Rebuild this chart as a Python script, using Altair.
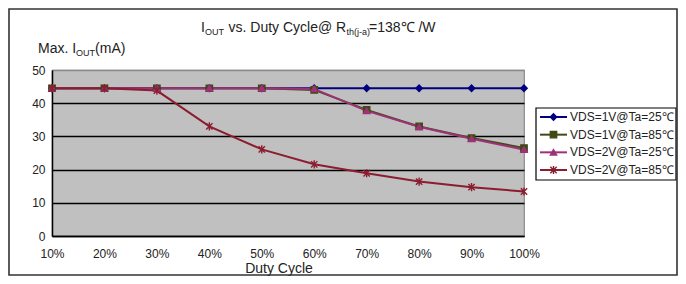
import altair as alt
import pandas as pd

# ---- data ----
duty = [10, 20, 30, 40, 50, 60, 70, 80, 90, 100]
series_names = ["VDS=1V@Ta=25℃", "VDS=1V@Ta=85℃", "VDS=2V@Ta=25℃", "VDS=2V@Ta=85℃"]
vds1_ta25 = [44.5, 44.5, 44.5, 44.5, 44.5, 44.5, 44.5, 44.5, 44.5, 44.5]
vds1_ta85 = [44.5, 44.5, 44.5, 44.5, 44.5, 44.0, 38.0, 33.0, 29.5, 26.5]
vds2_ta25 = [44.5, 44.5, 44.5, 44.5, 44.5, 44.3, 37.7, 32.9, 29.3, 26.0]
vds2_ta85 = [44.5, 44.5, 43.8, 33.0, 26.1, 21.6, 18.9, 16.4, 14.7, 13.4]
y_ticks = [0, 10, 20, 30, 40, 50]

colors = ["#000080", "#3f4a14", "#a0307a", "#8c1c30"]
STAR = "M-1,-1L1,1M-1,1L1,-1M0,-1.3L0,1.3"
shapes = ["diamond", "square", "triangle-up", STAR]

rows = []
for name, vals in zip(series_names, [vds1_ta25, vds1_ta85, vds2_ta25, vds2_ta85]):
    for d, v in zip(duty, vals):
        rows.append({"series": name, "duty": d, "value": v})
df = pd.DataFrame(rows)
legend_df = pd.DataFrame({"series": series_names})
one = pd.DataFrame({"k": [0]})

FONT = "Liberation Sans"
TXT = "#222222"

col_scale = alt.Scale(domain=series_names, range=colors)
shape_scale = alt.Scale(domain=series_names, range=shapes)
y_scale = alt.Scale(domain=[0, 50], nice=False)
x_scale = alt.Scale(domain=[10, 100], nice=False, zero=False)

x_enc = alt.X("duty:Q", scale=x_scale, axis=alt.Axis(
    values=duty, labelExpr="datum.value + '%'", ticks=False, grid=False,
    domainColor="black", domainWidth=1.5, labelFontSize=12, labelPadding=12,
    labelFont=FONT, labelColor=TXT, title=None, labelFlush=False))

lines = alt.Chart(df).mark_line(strokeWidth=2).encode(
    x=x_enc,
    y=alt.Y("value:Q", scale=y_scale, axis=alt.Axis(
        values=y_ticks, ticks=False, grid=True,
        gridColor=alt.condition("datum.value == 50", alt.value("#8a8a8a"), alt.value("black")),
        gridWidth=1.4, domainColor="black", domainWidth=1.5,
        labelFontSize=12, labelPadding=7, labelFont=FONT, labelColor=TXT, title=None)),
    stroke=alt.Stroke("series:N", scale=col_scale, legend=None),
    order="duty:Q",
)

points = alt.Chart(df).mark_point(filled=True, size=40, strokeWidth=1.4, opacity=1).encode(
    x=alt.X("duty:Q", scale=x_scale),
    y=alt.Y("value:Q", scale=y_scale, axis=None),
    fill=alt.Fill("series:N", scale=col_scale, legend=None),
    stroke=alt.Stroke("series:N", scale=col_scale, legend=None),
    shape=alt.Shape("series:N", scale=shape_scale, legend=None),
)

# ---- legend (drawn by hand, Excel style) ----
leg_y = alt.Y("series:N", scale=alt.Scale(type="point", domain=series_names,
                                          range=[47, 100], padding=0), axis=None)
leg_box = alt.Chart(one).mark_rect(fill="white", stroke="black", strokeWidth=1.2).encode(
    x=alt.value(484), x2=alt.value(624), y=alt.value(38), y2=alt.value(110))
leg_rule = alt.Chart(legend_df).mark_rule(strokeWidth=2).encode(
    x=alt.value(488), x2=alt.value(515), y=leg_y,
    stroke=alt.Stroke("series:N", scale=col_scale, legend=None))
leg_pt = alt.Chart(legend_df).mark_point(filled=True, size=40, strokeWidth=1.4, opacity=1).encode(
    x=alt.value(501.5), y=leg_y,
    fill=alt.Fill("series:N", scale=col_scale, legend=None),
    stroke=alt.Stroke("series:N", scale=col_scale, legend=None),
    shape=alt.Shape("series:N", scale=shape_scale, legend=None))
leg_txt = alt.Chart(legend_df).mark_text(
    align="left", baseline="middle", font=FONT, fontSize=12, color=TXT).encode(
    x=alt.value(518), y=leg_y, text="series:N")

# ---- frame and texts ----
frame = alt.Chart(one).mark_rect(fill="white", fillOpacity=0, stroke="#333333", strokeWidth=1.6).encode(
    x=alt.value(-43), x2=alt.value(625), y=alt.value(-61), y2=alt.value(205))


def txt(s, x, y, size=14, align="left"):
    return alt.Chart(one).mark_text(
        text=s, align=align, baseline="alphabetic", font=FONT, fontSize=size, color=TXT
    ).encode(x=alt.value(x), y=alt.value(y))


title_parts = [
    txt("I", 149, -38), txt("OUT", 152.9, -35, 9),
    txt("vs. Duty Cycle@ R", 176.5, -38), txt("th(j-a)", 294.5, -35, 9),
    txt("=138℃ /W", 317, -38),
]
ytitle_parts = [
    txt("Max. I", -14, -17), txt("OUT", 24.1, -14, 9), txt("(mA)", 43.1, -17),
]
xtitle = txt("Duty Cycle", 227, 203, 14, align="center")

chart = alt.layer(
    lines, points, leg_box, leg_rule, leg_pt, leg_txt,
    *title_parts, *ytitle_parts, xtitle, frame,
).resolve_scale(y="independent").properties(
    width=472, height=166,
    autosize=alt.AutoSizeParams(type="none"),
    padding={"left": 44, "top": 62, "right": 154, "bottom": 40},
).configure_view(fill="#c0c0c0", stroke="#8a8a8a", strokeWidth=1.2)

chart.save("out.html", embed_options={"renderer": "svg", "actions": False})
